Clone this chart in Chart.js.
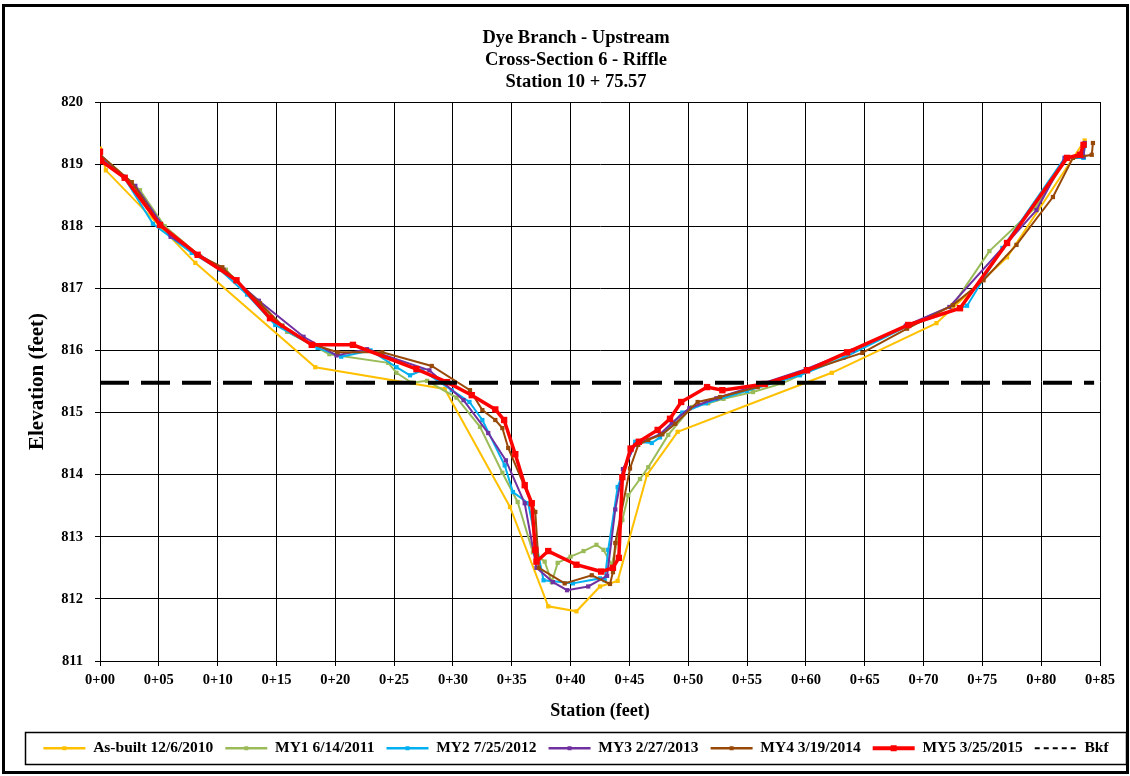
<!DOCTYPE html>
<html><head><meta charset="utf-8">
<script src="https://cdn.jsdelivr.net/npm/chart.js@4.4.0/dist/chart.umd.min.js"></script>
<style>html,body{margin:0;padding:0;background:#fff;}</style>
</head><body>
<canvas id="c" width="1130" height="776"></canvas>
<script>
// ---- data (station in feet, elevation in feet) ----
const titleLines = ['Dye Branch - Upstream', 'Cross-Section 6 - Riffle', 'Station 10 + 75.57'];
const seriesNames = ['As-built 12/6/2010', 'MY1 6/14/2011', 'MY2 7/25/2012', 'MY3 2/27/2013', 'MY4 3/19/2014', 'MY5 3/25/2015', 'Bkf'];

const asBuiltX = [0, 0.5, 8.1, 18.3, 29.3, 34.85, 38.1, 40.5, 42.5, 44.0, 46.5, 49.1, 62.2, 71.1, 77.1, 83.7];
const asBuiltY = [819.25, 818.9, 817.41, 815.73, 815.38, 813.48, 811.88, 811.8, 812.2, 812.29, 814.0, 814.69, 815.64, 816.44, 817.5, 819.38];

const my1X = [0, 3.4, 5.5, 8.5, 10.7, 13.3, 15.9, 19.5, 24.5, 25.2, 26.5, 27.8, 30.3, 32.3, 34.2, 35.5, 36.8, 37.8, 38.4, 38.9, 40.0, 41.1, 42.2, 42.8, 43.5, 44.4, 44.9, 45.9, 46.6, 48.3, 50.3, 51.7, 53.0, 55.5, 58.0, 63.5, 68.5, 72.5, 75.6, 79.5, 82.2, 83.6, 83.7];
const my1Y = [819.15, 818.58, 818.0, 817.52, 817.3, 816.8, 816.3, 815.94, 815.8, 815.64, 815.48, 815.51, 815.24, 814.77, 814.03, 813.56, 812.75, 812.6, 812.27, 812.58, 812.68, 812.77, 812.87, 812.79, 812.55, 813.27, 813.67, 813.93, 814.12, 814.64, 815.09, 815.15, 815.22, 815.33, 815.47, 815.95, 816.38, 816.73, 817.6, 818.3, 819.1, 819.1, 819.3];

const my2X = [0, 2, 4.5, 7.8, 10.2, 12.5, 14.9, 18.5, 20.5, 23, 25.2, 26.35, 27.4, 29.9, 31.4, 32.5, 34.4, 35.1, 36.4, 37.7, 40.2, 42.5, 42.9, 43.2, 44.0, 45.5, 46.9, 47.6, 49.5, 51.5, 55, 59.5, 63.2, 68.5, 73.7, 76.7, 82.0, 83.6, 83.7];
const my2Y = [819.15, 818.8, 818.04, 817.57, 817.3, 816.9, 816.41, 816.04, 815.9, 816.0, 815.73, 815.6, 815.68, 815.36, 815.17, 814.88, 814.15, 813.72, 813.54, 812.3, 812.25, 812.33, 812.3, 812.79, 813.8, 814.53, 814.51, 814.6, 815.0, 815.15, 815.35, 815.6, 815.88, 816.38, 816.72, 817.65, 819.1, 819.1, 819.3];

const my3X = [0, 3, 6, 10.5, 13.5, 17.3, 20.1, 22.7, 28.0, 30.9, 33.0, 34.5, 36.1, 37.1, 38.5, 39.7, 41.5, 43.1, 43.8, 44.45, 45.5, 47.6, 48.6, 50.1, 52.4, 56, 60, 64, 68.5, 72.2, 79.6, 82.0, 83.6, 83.7];
const my3Y = [819.1, 818.65, 817.83, 817.3, 816.8, 816.22, 815.92, 816.02, 815.68, 815.2, 814.67, 814.23, 813.54, 812.5, 812.27, 812.14, 812.2, 812.37, 813.44, 814.09, 814.48, 814.65, 814.83, 815.07, 815.23, 815.45, 815.7, 816.0, 816.4, 816.7, 818.26, 819.1, 819.12, 819.34];

const my4X = [0, 2.7, 5.2, 8.2, 10.4, 13.6, 15.5, 18, 20.2, 24.0, 28.2, 31.45, 32.5, 33.6, 34.2, 34.7, 37.0, 37.3, 39.5, 41.8, 43.35, 43.6, 43.8, 45.05, 45.75, 46.6, 47.8, 48.9, 50.8, 52.7, 55.9, 64.8, 68.6, 72.5, 75.1, 77.9, 81.0, 82.7, 84.3, 84.4];
const my4Y = [819.15, 818.71, 818.0, 817.55, 817.34, 816.76, 816.4, 816.1, 815.97, 815.97, 815.75, 815.36, 815.04, 814.88, 814.75, 814.43, 813.4, 812.5, 812.25, 812.38, 812.24, 812.43, 812.9, 814.1, 814.48, 814.56, 814.65, 814.82, 815.17, 815.25, 815.41, 815.96, 816.35, 816.73, 817.13, 817.7, 818.47, 819.1, 819.15, 819.34];

const my5X = [0, 0.1, 2.1, 5.1, 8.3, 11.6, 14.45, 18.0, 21.5, 26.9, 29.5, 31.6, 33.6, 34.35, 35.3, 36.1, 36.7, 37.0, 37.1, 38.1, 40.5, 42.6, 43.6, 44.1, 44.4, 45.1, 45.8, 47.4, 48.45, 49.4, 51.6, 52.9, 56.5, 60.1, 63.5, 68.7, 73.1, 77.1, 82.2, 83.3, 83.6];
const my5Y = [819.2, 819.05, 818.78, 818.02, 817.54, 817.13, 816.52, 816.09, 816.09, 815.7, 815.49, 815.28, 815.05, 814.88, 814.33, 813.83, 813.54, 812.79, 812.6, 812.77, 812.55, 812.44, 812.5, 812.66, 813.96, 814.42, 814.53, 814.72, 814.9, 815.17, 815.41, 815.36, 815.46, 815.68, 815.97, 816.41, 816.68, 817.73, 819.1, 819.15, 819.31];

const bkfX = [0, 84.5];
const bkfY = [815.48, 815.48];

const xTickValues = [0, 5, 10, 15, 20, 25, 30, 35, 40, 45, 50, 55, 60, 65, 70, 75, 80, 85];
const yTickValues = [811, 812, 813, 814, 815, 816, 817, 818, 819, 820];

// ---- build ----
const FONT = "'Liberation Serif', 'Times New Roman', serif";
const pts = (xs, ys) => xs.map((x, i) => ({x: x, y: ys[i]}));
const colors = ['#FFC000', '#9BBB59', '#00B0F0', '#7030A0', '#984807', '#FF0000', '#000000'];
const xsAll = [asBuiltX, my1X, my2X, my3X, my4X, my5X, bkfX];
const ysAll = [asBuiltY, my1Y, my2Y, my3Y, my4Y, my5Y, bkfY];

const datasets = seriesNames.map((name, i) => {
  const isRed = i === 5, isBkf = i === 6;
  return {
    label: name,
    data: pts(xsAll[i], ysAll[i]),
    borderColor: colors[i],
    backgroundColor: colors[i],
    borderWidth: isBkf ? 4 : (isRed ? 3.5 : 2),
    borderDash: isBkf ? [29, 12] : [],
    pointStyle: 'rect',
    pointRadius: isBkf ? 0 : (isRed ? 4.5 : 3),
    pointBorderWidth: 0,
    tension: 0,
    order: 7 - i
  };
});

const framePlugin = {
  id: 'frame',
  beforeDraw(chart) {
    const ctx = chart.ctx; ctx.save();
    ctx.fillStyle = '#fff'; ctx.fillRect(0, 0, chart.width, chart.height);
    ctx.restore();
  },
  afterDraw(chart) {
    const ctx = chart.ctx; ctx.save();
    ctx.strokeStyle = '#000';
    ctx.lineWidth = 3;
    ctx.strokeRect(3.5, 5.5, 1124, 767);
    const lg = chart.legend;
    ctx.lineWidth = 1.5;
    ctx.strokeRect(25.5, lg.top + 4, 1101, lg.bottom - lg.top - 5.5);
    // small markers in legend samples
    const bw = lg.options.labels.pointStyleWidth;
    lg.legendHitBoxes.forEach((hb, i) => {
      const di = lg.legendItems[i].datasetIndex;
      if (di > 5) return;
      const cx = hb.left + bw / 2, cy = hb.top + hb.height / 2;
      const s = di === 5 ? 6 : 4;
      ctx.fillStyle = colors[di];
      ctx.fillRect(cx - s / 2, cy - s / 2, s, s);
    });
    ctx.restore();
  }
};

new Chart(document.getElementById('c'), {
  type: 'line',
  data: { datasets: datasets },
  plugins: [framePlugin],
  options: {
    responsive: false,
    animation: false,
    devicePixelRatio: 1,
    layout: { padding: { left: 27, right: 5, top: 15, bottom: 10 } },
    plugins: {
      title: {
        display: true, text: titleLines, color: '#000',
        font: { family: FONT, size: 18.5, weight: 'bold', lineHeight: 22 / 18.5 },
        padding: { top: 12, bottom: 9 }
      },
      legend: {
        position: 'bottom',
        labels: {
          usePointStyle: true, pointStyle: 'line', pointStyleWidth: 42,
          padding: 12, color: '#000',
          font: { family: FONT, size: 15.5, weight: 'bold' },
          generateLabels(chart) {
            const items = Chart.defaults.plugins.legend.labels.generateLabels(chart);
            items.sort((a, b) => a.datasetIndex - b.datasetIndex);
            items.forEach(it => {
              const i = it.datasetIndex;
              it.pointStyle = 'line';
              it.strokeStyle = colors[i];
              it.fillStyle = colors[i];
              if (i === 6) { it.lineDash = [5, 4]; it.lineWidth = 2; }
              else if (i === 5) { it.lineDash = []; it.lineWidth = 4; }
              else { it.lineDash = []; it.lineWidth = 2.5; }
            });
            return items;
          }
        }
      },
      tooltip: { enabled: false }
    },
    scales: {
      x: {
        type: 'linear', min: xTickValues[0], max: xTickValues[xTickValues.length - 1],
        afterBuildTicks: s => { s.ticks = xTickValues.map(v => ({ value: v })); },
        ticks: {
          callback: v => '0+' + String(v).padStart(2, '0'),
          font: { family: FONT, size: 14.5, weight: 'bold' }, color: '#000',
          padding: 6, maxRotation: 0, autoSkip: false
        },
        grid: { color: '#000', lineWidth: 1, tickLength: 5 },
        border: { color: '#000', width: 1 },
        title: {
          display: true, text: 'Station (feet)', color: '#000',
          font: { family: FONT, size: 18, weight: 'bold' },
          padding: { top: 0, bottom: 6 }
        },
        afterFit: s => { s.height = 67.5; }
      },
      y: {
        type: 'linear', position: 'left', min: yTickValues[0], max: yTickValues[yTickValues.length - 1],
        afterBuildTicks: s => { s.ticks = yTickValues.map(v => ({ value: v })); },
        ticks: {
          font: { family: FONT, size: 14.5, weight: 'bold' }, color: '#000',
          padding: 12
        },
        grid: { color: '#000', lineWidth: 1, tickLength: 5 },
        border: { color: '#000', width: 1 },
        title: {
          display: true, text: 'Elevation (feet)', color: '#000',
          font: { family: FONT, size: 21, weight: 'bold', lineHeight: 1 },
          padding: { top: 0, bottom: 0 }
        },
        afterFit: s => { s.width = 73; }
      },
      yR: {
        type: 'linear', position: 'right', min: yTickValues[0], max: yTickValues[yTickValues.length - 1],
        ticks: { display: false },
        grid: { display: false, drawOnChartArea: false },
        border: { display: false },
        afterFit: s => { s.width = 25; }
      }
    }
  }
});
</script>
</body></html>
